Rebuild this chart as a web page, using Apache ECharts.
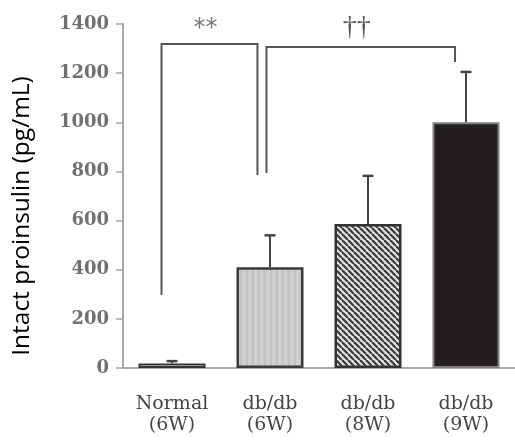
<!DOCTYPE html>
<html>
<head>
<meta charset="utf-8">
<script src="https://cdn.jsdelivr.net/npm/echarts@6/dist/echarts.min.js"></script>
<style>html,body{margin:0;padding:0;background:#fff;}#c{width:515px;height:441px;}</style>
</head>
<body>
<div id="c"></div>
<script>
const categories = ['Normal\n(6W)', 'db/db\n(6W)', 'db/db\n(8W)', 'db/db\n(9W)'];
const means = [18, 410, 586, 1000];
const errors = [10, 130, 196, 205];
const yTicks = [0, 200, 400, 600, 800, 1000, 1200, 1400];
const yAxisTitle = 'Intact proinsulin (pg/mL)';
// brackets: [leftCat, rightCat, topValue, leftBottom, rightBottom]
const bracketDefs = [
  [0, 1, 1319, 297, 785],
  [1, 3, 1306, 794, 1245]
];
const bracketLabels = ['**', '\u2020\u2020'];

function makePattern(kind) {
  const c = document.createElement('canvas');
  c.width = 6; c.height = 6;
  const g = c.getContext('2d');
  if (kind === 'hatch') {
    g.fillStyle = '#e2e2e2'; g.fillRect(0, 0, 6, 6);
    g.strokeStyle = '#3a3a3a'; g.lineWidth = 2.2;
    for (let k = -6; k <= 12; k += 6) {
      g.beginPath(); g.moveTo(k, 0); g.lineTo(k + 6, 6); g.stroke();
    }
  } else {
    g.fillStyle = '#cdcdcd'; g.fillRect(0, 0, 6, 6);
    g.fillStyle = '#c3c3c3'; g.fillRect(0, 0, 2, 6);
    g.fillStyle = '#d6d6d6'; g.fillRect(3, 0, 1, 6);
  }
  return { image: c, repeat: 'repeat' };
}

const barStyles = [
  { color: '#ffffff', borderColor: '#333333', borderWidth: 2 },
  { color: makePattern('dots'), borderColor: '#3a3a3a', borderWidth: 2.5 },
  { color: makePattern('hatch'), borderColor: '#333333', borderWidth: 2.5 },
  { color: '#231f20', borderColor: '#808080', borderWidth: 2 }
];

const chart = echarts.init(document.getElementById('c'));
const bracketOffsets = [[-0.107, -0.128], [-0.036, -0.112]];

chart.setOption({
  animation: false,
  graphic: [{
    type: 'text', x: 22, y: 216, rotation: Math.PI / 2,
    style: { text: yAxisTitle, fontFamily: 'Open Sans', fontSize: 24.5, fill: '#000000',
      align: 'center', verticalAlign: 'middle' }
  }],
  grid: { left: 123, right: 0, top: 24, bottom: 73, containLabel: false },
  xAxis: {
    type: 'category',
    data: categories,
    axisLine: { lineStyle: { color: '#a8a8a8', width: 2 } },
    axisTick: { show: false },
    axisLabel: { fontFamily: 'DejaVu Serif', fontSize: 19, color: '#444444', lineHeight: 21, margin: 26 }
  },
  yAxis: {
    type: 'value', min: 0, max: 1400, interval: 200,
    axisLine: { show: true, lineStyle: { color: '#a8a8a8', width: 2 } },
    axisTick: { show: true, length: 7, lineStyle: { color: '#a8a8a8', width: 1.5 } },
    splitLine: { show: false },
    axisLabel: { fontFamily: 'DejaVu Serif', fontSize: 18, fontWeight: 'bold', color: '#707070', margin: 14,
      formatter: v => yTicks.indexOf(v) >= 0 ? String(v) : '' }
  },
  series: [
    {
      type: 'bar', barWidth: 67,
      data: means.map((v, i) => ({ value: v, itemStyle: barStyles[i] })),
      z: 2
    },
    {
      type: 'custom', z: 3,
      data: means.map((m, i) => [i, m, m + errors[i]]),
      renderItem: function (params, api) {
        const i = api.value(0);
        const p0 = api.coord([i, api.value(1)]);
        const p1 = api.coord([i, api.value(2)]);
        return { type: 'group', children: [
          { type: 'line', shape: { x1: p0[0], y1: p0[1], x2: p1[0], y2: p1[1] }, style: { stroke: '#444444', lineWidth: 2 } },
          { type: 'line', shape: { x1: p1[0] - 5.5, y1: p1[1], x2: p1[0] + 5.5, y2: p1[1] }, style: { stroke: '#444444', lineWidth: 2.5 } }
        ] };
      }
    },
    {
      type: 'custom', z: 4,
      data: bracketDefs,
      renderItem: function (params, api) {
        const idx = params.dataIndex;
        const band = api.size([1, 0])[0];
        const l = api.value(0), r = api.value(1), top = api.value(2), lb = api.value(3), rb = api.value(4);
        const off = bracketOffsets[idx];
        const xl = api.coord([l, top])[0] + off[0] * band;
        const xr = api.coord([r, top])[0] + off[1] * band;
        const yt = api.coord([l, top])[1];
        const yl = api.coord([l, lb])[1];
        const yr = api.coord([r, rb])[1];
        return { type: 'group', children: [
          { type: 'polyline', shape: { points: [[xl, yl], [xl, yt], [xr, yt], [xr, yr]] },
            style: { stroke: '#555555', lineWidth: 2, fill: null } },
          { type: 'text', x: (xl + xr) / 2 - 4, y: yt - (idx === 0 ? 15 : 19),
            style: { text: bracketLabels[idx], fontFamily: idx === 0 ? 'DejaVu Sans' : 'Liberation Serif',
              fontSize: idx === 0 ? 24 : 28, fill: idx === 0 ? '#777777' : '#555555',
              align: 'center', verticalAlign: 'middle' } }
        ] };
      }
    }
  ]
});
</script>
</body>
</html>
